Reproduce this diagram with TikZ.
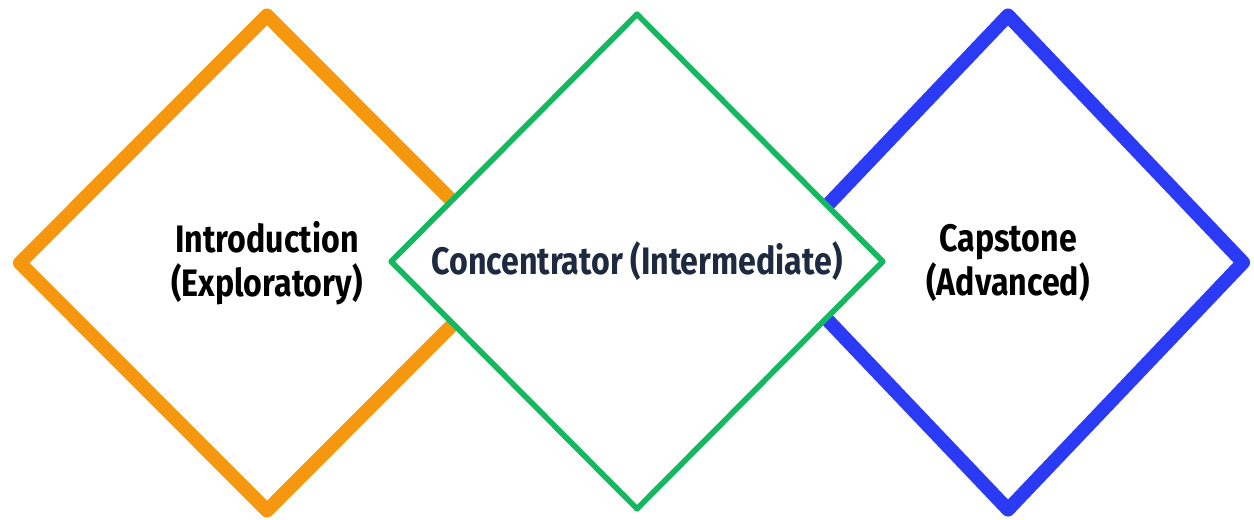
\documentclass[tikz,border=0pt]{standalone}
\usepackage{fontspec}
\setmainfont{Fira Sans}[FakeStretch=0.84]
\usetikzlibrary{shapes.geometric}
\definecolor{introorange}{HTML}{F5980F}
\definecolor{concgreen}{HTML}{14B85F}
\definecolor{capblue}{HTML}{2B3BF5}
\definecolor{concnavy}{HTML}{1E2A40}
\tikzset{
    every node/.style={diamond, draw, fill=white, line join=round, inner sep=0pt,
    	align=center, font=\bfseries\fontsize{21.8}{25}\selectfont}
}
\tikzset{
    thick stage/.style={line width=7.9pt},
    thin stage/.style={line width=3.2pt}
}

\begin{document}
\begin{tikzpicture}[x=0.02cm, y=-0.02cm]
	\useasboundingbox (0,0) rectangle (1254,520);
	\node (intro) [thick stage, draw=introorange, minimum width=10cm, minimum height=10.02cm] at (267,263) {Introduction\\(Exploratory)};
	\node (caps) [thick stage, draw=capblue, minimum width=9.52cm, minimum height=10cm] at (1008,262.5) {Capstone\\(Advanced)};
	\node (conc) [thin stage, draw=concgreen, text=concnavy, minimum width=9.88cm, minimum height=9.94cm] at (637,261.5) {Concentrator (Intermediate)};
\end{tikzpicture}
\end{document}
